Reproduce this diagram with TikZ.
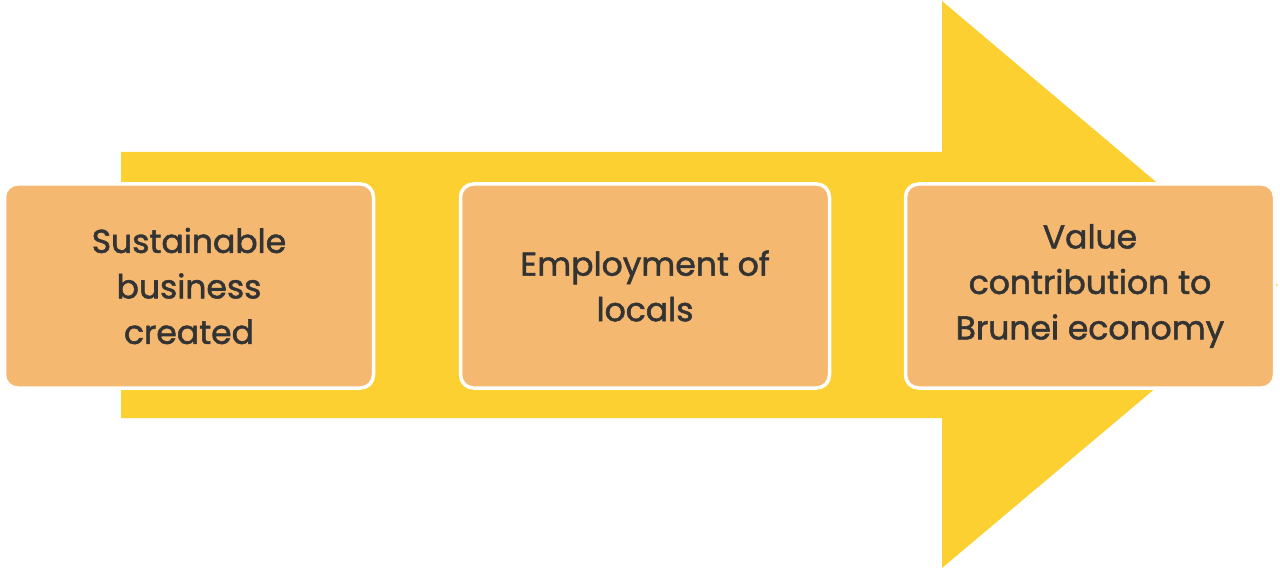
\documentclass[tikz,border=0pt]{standalone}
\usepackage{fontspec}
\setmainfont{Poppins}
\newfontfamily\cardfont{Poppins}[FakeBold=1.6]
\definecolor{arrowyellow}{HTML}{FBD030}
\definecolor{boxorange}{HTML}{F4B870}
\definecolor{txt}{HTML}{333333}
\begin{document}
\begin{tikzpicture}[x=1pt,y=-1pt,
  card/.style={draw=white,line width=3.5pt,fill=boxorange,rounded corners=13pt,
    minimum width=369pt,minimum height=204pt,inner sep=0pt,align=center,
    text=txt,font=\cardfont\fontsize{33}{45.5}\selectfont}]
\useasboundingbox (0,0) rectangle (1280,569);
\fill[arrowyellow] (121,152) -- (942,152) -- (942,1) -- (1278,285) -- (942,568) -- (942,418) -- (121,418) -- cycle;
\node[card] (b1) at (189,286) {Sustainable\\business\\created};
\node[card] (b2) at (645,286) {Employment of\\locals};
\node[card] (b3) at (1090,286) {Value\\contribution to\\Brunei economy};
\end{tikzpicture}
\end{document}
